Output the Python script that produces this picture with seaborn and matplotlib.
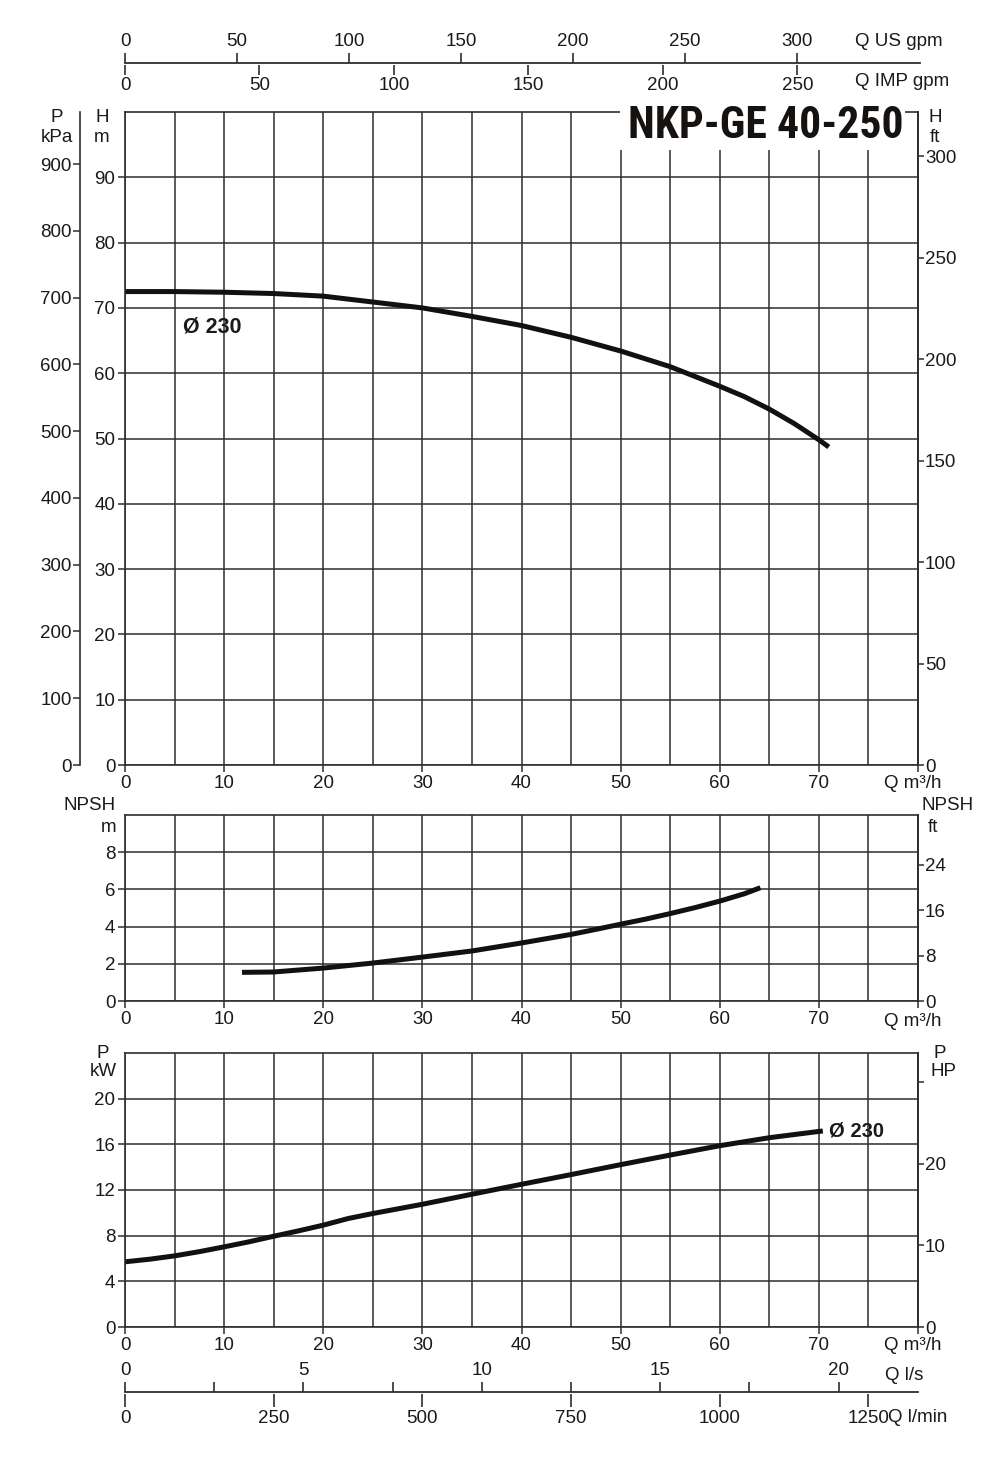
import matplotlib
matplotlib.use("Agg")
import matplotlib.pyplot as plt
import matplotlib.font_manager as fm
from matplotlib.patches import Rectangle
from matplotlib.ticker import FuncFormatter, MultipleLocator
import seaborn as sns

# =====================
# Data (Q in m3/h)
# =====================
q_head = [0, 5, 10, 15, 20, 25, 30, 35, 40, 45, 50, 55, 57.5, 60, 62.5, 65, 67.5, 70, 71]
head_m = [72.5, 72.5, 72.4, 72.2, 71.8, 70.9, 70.0, 68.7, 67.3, 65.5, 63.4, 61.0, 59.5, 58.0, 56.4,
          54.5, 52.3, 49.8, 48.7]

q_npsh = [11.8, 15, 20, 25, 30, 35, 40, 42.5, 45, 47.5, 50, 52.5, 55, 57.5, 60, 62.5, 64.1]
npsh_m = [1.54, 1.56, 1.77, 2.04, 2.36, 2.69, 3.12, 3.35, 3.58, 3.85, 4.13, 4.4, 4.7, 5.02, 5.37,
          5.77, 6.09]

q_power = [0, 2.5, 5, 7.5, 10, 12.5, 15, 17.5, 20, 22.5, 25, 30, 35, 40, 45, 50, 55, 60, 65, 70, 70.4]
power_kw = [5.71, 5.94, 6.23, 6.6, 7.02, 7.46, 7.95, 8.42, 8.92, 9.5, 9.94, 10.75, 11.63, 12.5,
            13.35, 14.22, 15.06, 15.88, 16.58, 17.13, 17.17]

q_ticks = [0, 10, 20, 30, 40, 50, 60, 70, 80]
q_labels = ["0", "10", "20", "30", "40", "50", "60", "70", ""]
head_ticks = [0, 10, 20, 30, 40, 50, 60, 70, 80, 90]
kpa_ticks = [0, 100, 200, 300, 400, 500, 600, 700, 800, 900]
ft_ticks = [0, 50, 100, 150, 200, 250, 300]
npsh_ticks = [0, 2, 4, 6, 8]
npsh_ft_ticks = [0, 8, 16, 24]
kw_ticks = [0, 4, 8, 12, 16, 20]
hp_ticks = [0, 10, 20, 30]
hp_labels = ["0", "10", "20", ""]
usgpm_ticks = [0, 50, 100, 150, 200, 250, 300]
impgpm_ticks = [0, 50, 100, 150, 200, 250]
ls_ticks = [0, 2.5, 5, 7.5, 10, 12.5, 15, 17.5, 20]
lmin_ticks = [0, 250, 500, 750, 1000, 1250]

title = "NKP-GE 40-250"
curve_label = "Ø 230"

# unit factors as drawn on this sheet
KPA_PER_M = 9.78
FT_PER_M = 3.2175
NPSH_FT_PER_M = 3.281
HP_PER_KW = 1.3976
USGPM_PER_M3H = 4.425
IMPGPM_PER_M3H = 3.685
LS_PER_M3H = 1 / 3.6
LMIN_PER_M3H = 16.667

# =====================
# Style
# =====================
sns.set_style("white")
plt.rcParams["font.family"] = ["Liberation Sans", "DejaVu Sans"]
INK = "#1a1a1a"
GRID = "#2e2e2e"
FS = 13.5
plt.rcParams["text.color"] = INK
plt.rcParams["axes.edgecolor"] = GRID
plt.rcParams["xtick.color"] = GRID
plt.rcParams["ytick.color"] = GRID
plt.rcParams["xtick.labelcolor"] = INK
plt.rcParams["ytick.labelcolor"] = INK

# a narrow bold face for the model name, whichever is installed
names = {f.name for f in fm.fontManager.ttflist}
if "Roboto Condensed" in names:
    title_kw = dict(family="Roboto Condensed", fontsize=31.5)
elif "Liberation Sans Narrow" in names:
    title_kw = dict(family="Liberation Sans Narrow", fontsize=33)
else:
    title_kw = dict(family="DejaVu Sans", fontstretch="condensed", fontsize=26.5)

W, H = 997, 1465
fig = plt.figure(figsize=(W / 100, H / 100), dpi=100)


def rect(l, t, r, b):
    return [l / W, 1 - b / H, (r - l) / W, (b - t) / H]


def fx(px):
    return px / W


def fy(py):
    return 1 - py / H


def style_main(ax, ylim, yticks):
    ax.set_xlim(0, 80)
    ax.set_ylim(*ylim)
    ax.set_xticks(q_ticks)
    ax.set_xticklabels(q_labels)
    ax.xaxis.set_minor_locator(MultipleLocator(5))
    ax.set_yticks(yticks)
    ax.grid(which="both", axis="x", color=GRID, lw=1.1)
    ax.grid(which="major", axis="y", color=GRID, lw=1.1)
    ax.tick_params(which="major", direction="out", length=5, width=1.1,
                   labelsize=FS, pad=2, left=True, bottom=True)
    ax.tick_params(which="minor", length=0)
    for s in ax.spines.values():
        s.set_linewidth(1.2)
        s.set_color(GRID)
    ax.set_xlabel("")
    ax.set_ylabel("")


def right_axis(ax, factor, ticks, labels=None):
    sec = ax.secondary_yaxis("right", functions=(lambda v: v * factor, lambda v: v / factor))
    sec.set_yticks(ticks)
    if labels is not None:
        sec.set_yticklabels(labels)
    sec.tick_params(direction="out", length=4, width=1.1, labelsize=FS, pad=1)
    sec.spines["right"].set_linewidth(1.2)
    return sec


def label(x, y, s, **kw):
    opts = dict(fontsize=FS, ha="center", va="center")
    opts.update(kw)
    fig.text(fx(x), fy(y), s, **opts)


# =====================
# Head curve
# =====================
ax_h = fig.add_axes(rect(125, 112, 918, 765))
sns.lineplot(x=q_head, y=head_m, ax=ax_h, color="#111111", lw=3.6, solid_capstyle="butt")
style_main(ax_h, (0, 100), head_ticks)
label(212, 327, curve_label, fontsize=15.5, fontweight="bold")

kpa = ax_h.secondary_yaxis((80 - 125) / 793, functions=(lambda v: v * KPA_PER_M, lambda v: v / KPA_PER_M))
kpa.set_yticks(kpa_ticks)
kpa.tick_params(direction="out", length=5, width=1.1, labelsize=FS, pad=1)
kpa.spines["left"].set_linewidth(1.2)
right_axis(ax_h, FT_PER_M, ft_ticks)

label(57, 117, "P")
label(57, 137, "kPa")
label(102, 117, "H")
label(102, 137, "m")
label(935, 117, "H")
label(935, 137, "ft")
label(884, 784, "Q m³/h", ha="left")

# title box over the grid corner
fig.patches.append(Rectangle((fx(620), fy(150)), fx(905) - fx(620), fy(98) - fy(150),
                             transform=fig.transFigure, facecolor="white", edgecolor="none", zorder=1))
fig.text(fx(766), fy(126), title, fontweight="bold", ha="center", va="center", zorder=3,
         color="#161210", **title_kw)

# =====================
# NPSH curve
# =====================
ax_n = fig.add_axes(rect(125, 815, 918, 1001))
sns.lineplot(x=q_npsh, y=npsh_m, ax=ax_n, color="#111111", lw=3.6, solid_capstyle="butt")
style_main(ax_n, (0, 10), npsh_ticks)
right_axis(ax_n, NPSH_FT_PER_M, npsh_ft_ticks)
label(90, 806, "NPSH")
label(109, 827, "m")
label(948, 806, "NPSH")
label(933, 827, "ft")
label(884, 1021, "Q m³/h", ha="left")

# =====================
# Power curve
# =====================
ax_p = fig.add_axes(rect(125, 1053, 918, 1327))
sns.lineplot(x=q_power, y=power_kw, ax=ax_p, color="#111111", lw=3.6, solid_capstyle="butt")
style_main(ax_p, (0, 24), kw_ticks)
right_axis(ax_p, HP_PER_KW, hp_ticks, hp_labels)
label(829, 1131, curve_label, fontsize=14.5, fontweight="bold", ha="left")
label(103, 1053, "P")
label(103, 1071, "kW")
label(940, 1053, "P")
label(943, 1071, "HP")
label(884, 1346, "Q m³/h", ha="left")

# =====================
# Extra flow scales
# =====================
ax_top = fig.add_axes(rect(125, 63.5, 920, 64.5))
ax_top.set_xlim(0, 80 * 795 / 793)
ax_top.set_yticks([])
ax_top.set_xticks([])
for s in ax_top.spines.values():
    s.set_visible(False)
us = ax_top.secondary_xaxis("top", functions=(lambda v: v * USGPM_PER_M3H, lambda v: v / USGPM_PER_M3H))
us.set_xticks(usgpm_ticks)
us.tick_params(direction="out", length=7, width=1.2, labelsize=FS, pad=3)
us.spines["top"].set_linewidth(1.3)
imp = ax_top.secondary_xaxis("bottom", functions=(lambda v: v * IMPGPM_PER_M3H, lambda v: v / IMPGPM_PER_M3H))
imp.set_xticks(impgpm_ticks)
imp.tick_params(direction="out", length=7, width=1.2, labelsize=FS, pad=2)
imp.spines["bottom"].set_visible(False)
label(855, 41, "Q US gpm", ha="left")
label(855, 81, "Q IMP gpm", ha="left")

ax_bot = fig.add_axes(rect(125, 1392.5, 918, 1393.5))
ax_bot.set_xlim(0, 80)
ax_bot.set_yticks([])
ax_bot.set_xticks([])
for s in ax_bot.spines.values():
    s.set_visible(False)
ls = ax_bot.secondary_xaxis("top", functions=(lambda v: v * LS_PER_M3H, lambda v: v / LS_PER_M3H))
ls.set_xticks(ls_ticks)
ls.xaxis.set_major_formatter(FuncFormatter(lambda v, p: f"{v:.0f}" if v % 5 == 0 else ""))
ls.tick_params(direction="out", length=7, width=1.2, labelsize=FS, pad=3)
ls.spines["top"].set_linewidth(1.3)
lm = ax_bot.secondary_xaxis("bottom", functions=(lambda v: v * LMIN_PER_M3H, lambda v: v / LMIN_PER_M3H))
lm.set_xticks(lmin_ticks)
lm.tick_params(direction="out", length=9, width=1.2, labelsize=FS, pad=3)
lm.spines["bottom"].set_visible(False)
label(885, 1375, "Q l/s", ha="left")
label(888, 1418, "Q l/min", ha="left")

fig.savefig("out.png", dpi=100)
plt.close(fig)
